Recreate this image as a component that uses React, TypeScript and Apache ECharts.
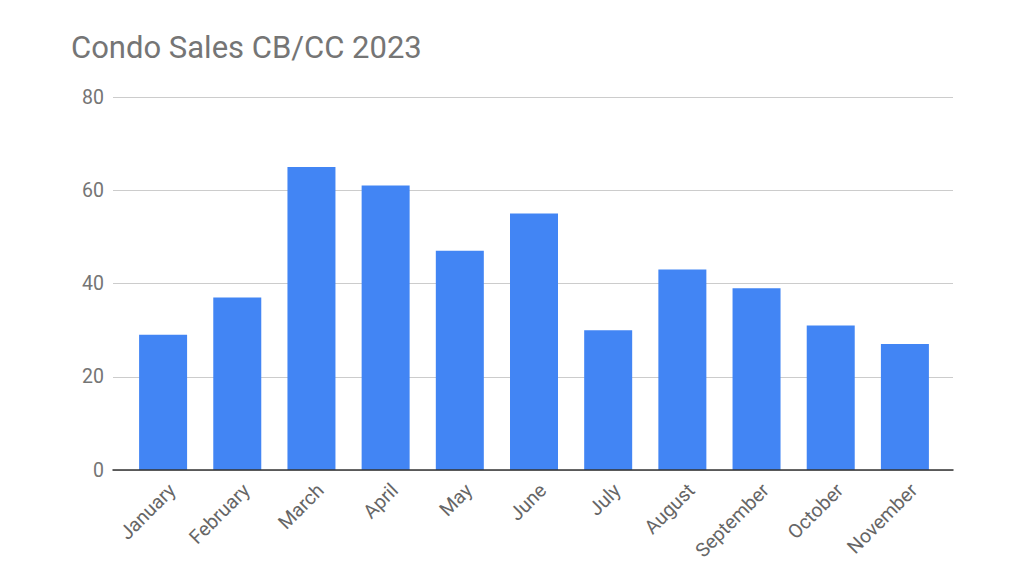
import { useEffect, useRef } from "react";
import * as echarts from "echarts";

const months = [
  "January",
  "February",
  "March",
  "April",
  "May",
  "June",
  "July",
  "August",
  "September",
  "October",
  "November",
];
const sales = [29, 37, 65, 61, 47, 55, 30, 43, 39, 31, 27];
const yMax = 80;
const yStep = 20;

const App = () => {
  const chartRef = useRef<HTMLDivElement>(null);

  useEffect(() => {
    if (!chartRef.current) {
      return;
    }
    const chart = echarts.init(chartRef.current, null, { renderer: "svg" });

    // grid 0: gridlines + baseline, grid 1: inset bars, grid 2: month labels (nudged right)
    const option: echarts.EChartsOption = {
      animation: false,
      backgroundColor: "#FFFFFF",
      title: {
        text: "Condo Sales CB/CC 2023",
        left: 71,
        top: 32,
        padding: 0,
        textStyle: {
          fontFamily: "Roboto",
          fontSize: 31,
          fontWeight: 400,
          color: "#757575",
        },
      },
      grid: [
        { left: 113, right: 71, top: 97, bottom: 106, containLabel: false },
        { left: 126, right: 82, top: 97, bottom: 106, containLabel: false },
        { left: 128, right: 80, top: 97, bottom: 106, containLabel: false },
      ],
      xAxis: [
        {
          gridIndex: 0,
          type: "value",
          min: 0,
          max: 1,
          z: 5,
          axisLine: { show: true, lineStyle: { color: "#333333", width: 1.5 } },
          axisTick: { show: false },
          axisLabel: { show: false },
          splitLine: { show: false },
        },
        {
          gridIndex: 1,
          type: "category",
          data: months,
          show: false,
        },
        {
          gridIndex: 2,
          type: "category",
          data: months,
          axisLine: { show: false },
          axisTick: { show: false },
          axisLabel: {
            rotate: 45,
            margin: 10,
            interval: 0,
            verticalAlign: "top",
            color: "#666666",
            fontFamily: "Roboto",
            fontSize: 19.5,
          },
        },
      ],
      yAxis: [
        {
          gridIndex: 0,
          type: "value",
          min: 0,
          max: yMax,
          interval: yStep,
          axisLine: { show: false },
          axisTick: { show: false },
          axisLabel: {
            margin: 9,
            color: "#757575",
            fontFamily: "Roboto",
            fontSize: 19.5,
          },
          splitLine: { lineStyle: { color: "#CCCCCC", width: 1 } },
        },
        {
          gridIndex: 1,
          type: "value",
          min: 0,
          max: yMax,
          interval: yStep,
          show: false,
          splitLine: { show: false },
        },
        {
          gridIndex: 2,
          type: "value",
          min: 0,
          max: yMax,
          show: false,
          splitLine: { show: false },
        },
      ],
      series: [
        {
          type: "bar",
          xAxisIndex: 1,
          yAxisIndex: 1,
          data: sales,
          barWidth: 48,
          itemStyle: { color: "#4285F4" },
        },
      ],
    };

    chart.setOption(option);

    return () => {
      chart.dispose();
    };
  }, []);

  return (
    <div
      ref={chartRef}
      style={{ position: "absolute", left: 0, top: 0, width: 1024, height: 576 }}
    />
  );
};

export default App;
